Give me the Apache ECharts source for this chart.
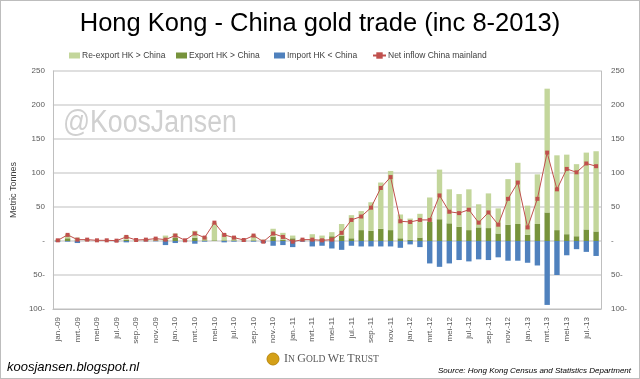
<!DOCTYPE html>
<html><head><meta charset="utf-8">
<script src="https://cdn.jsdelivr.net/npm/echarts@6/dist/echarts.min.js"></script>
<style>html,body{margin:0;padding:0;background:#fff}#c{width:638px;height:377px;border:1px solid #bdbdbd}</style>
</head><body><div id="c"></div>
<script>
const months = ['jan.','feb.','mrt.','apr.','mei','jun.','jul.','aug.','sep.','okt.','nov.','dec.'];
const years = ['09','10','11','12','13'];
const categories = [];
for (const y of years) for (const m of months) { if (categories.length < 56) categories.push(m + '-' + y); }
const exportHK = [1,4,1,1,0.5,0,0.5,2,0.5,1,1,2, 5,0.5,5,1,1,1,1,0.5,1,0.5,6,2, 4,1,2,3,7,8,4,16,15,18,16,4, 2,5,28,32,26,21,16,20,19,11,24,25, 9,25,42,16,10,7,17,14];
const totalOut = [2,10,5,2,1,1,1,8,1.5,2.5,4,8, 11,1.5,15,6,27,11,6,2,9,2,18,12, 8,3,10,8,13,25,38,44,57,86,103,39, 33,40,64,105,76,69,76,54,70,48,91,115, 52,98,224,126,127,113,130,132];
const reExport = totalOut.map((t,i)=> +(t - exportHK[i]).toFixed(1));
const importHK = [-1,-1,-3,0,0,0,-1,-2,0,-0.5,-0.5,-6, -3,-0.5,-4,-1,0,-2,-1,-0.5,-1,-3,-7,-6, -9,-1,-8,-7,-11,-13,-7,-8,-8,-8,-8,-10, -5,-9,-33,-38,-33,-28,-30,-27,-28,-24,-29,-29, -32,-36,-94,-50,-21,-12,-16,-22];
const netInflow = [1,9,2,2,1,1,0.5,6,1.5,2,3.5,2, 8,1,11,5,27,9,5,1.5,8,-1,11,6, -1,2,2,1,2,12,31,36,49,78,94,29, 28,31,31,67,43,41,46,27,42,24,62,86, 20,62,130,76,106,101,114,110];
const seriesNames = ['Re-export HK > China','Export HK > China','Import HK < China','Net inflow China mainland'];

const fmt = v => v === 0 ? '-' : (v < 0 ? (-v) + '-' : String(v));
const chart = echarts.init(document.getElementById('c'));
const axisLabel = {color:'#595959', fontSize:8, fontFamily:'Liberation Sans', formatter: fmt};
const legPos = [63, 170, 268, 366];
const legends = seriesNames.map((n,i)=>({
  top:45, left:legPos[i], itemWidth:i===3?13:11, itemHeight:i===3?8:6, itemGap:2,
  textStyle:{fontFamily:'Liberation Sans', fontSize:8.5, color:'#404040', padding:[0,0,0,-3]},
  data:[{name:n, icon: i===3 ? undefined : 'rect'}]
}));
chart.setOption({
  animation:false,
  title:{text:'Hong Kong - China gold trade (inc 8-2013)', left:'center', top:5,
    textStyle:{fontFamily:'Liberation Sans', fontWeight:'normal', fontSize:25.5, color:'#000'}},
  legend:legends,
  grid:{left:46, right:38, top:70, bottom:69},
  xAxis:{type:'category', data:categories, axisLine:{onZero:false, lineStyle:{color:'#bfbfbf'}},
    axisTick:{show:false},
    axisLabel:{interval:1, rotate:90, color:'#595959', fontSize:8, fontFamily:'Liberation Sans', margin:8}},
  yAxis:[
    {type:'value', min:-100, max:250, interval:50, name:'Metric Tonnes', nameLocation:'middle', nameGap:24,
     nameTextStyle:{fontFamily:'Liberation Sans', fontSize:9, color:'#404040'},
     axisLine:{show:true, lineStyle:{color:'#bfbfbf'}}, axisTick:{show:false},
     splitLine:{lineStyle:{color:'#d4d4d4', width:1.5}}, axisLabel:axisLabel},
    {type:'value', min:-100, max:250, interval:50, position:'right',
     axisLine:{show:true, lineStyle:{color:'#bfbfbf'}}, axisTick:{show:false},
     splitLine:{show:false}, axisLabel:Object.assign({}, axisLabel, {margin:10})}
  ],
  series:[
    {name:seriesNames[1], type:'bar', stack:'t', data:exportHK, barWidth:'55%', itemStyle:{color:'#77933c'}},
    {name:seriesNames[0], type:'bar', stack:'t', data:reExport, itemStyle:{color:'#c3d69b'}},
    {name:seriesNames[2], type:'bar', stack:'t', data:importHK, itemStyle:{color:'#4f81bd'}},
    {name:seriesNames[3], type:'line', data:netInflow, symbol:'rect', symbolSize:4,
     lineStyle:{color:'#c0504d', width:1}, itemStyle:{color:'#c0504d'}}
  ],
  graphic:[
    {type:'text', x:62, y:107, scaleX:0.86, style:{text:'@KoosJansen', fill:'#d0d0d0', font:'31px "Liberation Sans"'}},
    {type:'text', left:6, top:360, style:{text:'koosjansen.blogspot.nl', fill:'#000', font:'italic 13px "Liberation Sans"'}},
    {type:'circle', shape:{cx:272, cy:358, r:6}, style:{fill:'#d4a017', stroke:'#b8860b', lineWidth:1}},
    {type:'text', left:283, top:352, style:{text:'{a|I}{b|N }{a|G}{b|OLD }{a|W}{b|E }{a|T}{b|RUST}', rich:{a:{fontSize:12, fill:'#595959', fontFamily:'Liberation Serif'}, b:{fontSize:9.5, fill:'#595959', fontFamily:'Liberation Serif'}}}},
    {type:'text', right:8, top:366, style:{text:'Source: Hong Kong Census and Statistics Department', fill:'#000', font:'italic 8px "Liberation Sans"'}}
  ]
});
</script></body></html>
